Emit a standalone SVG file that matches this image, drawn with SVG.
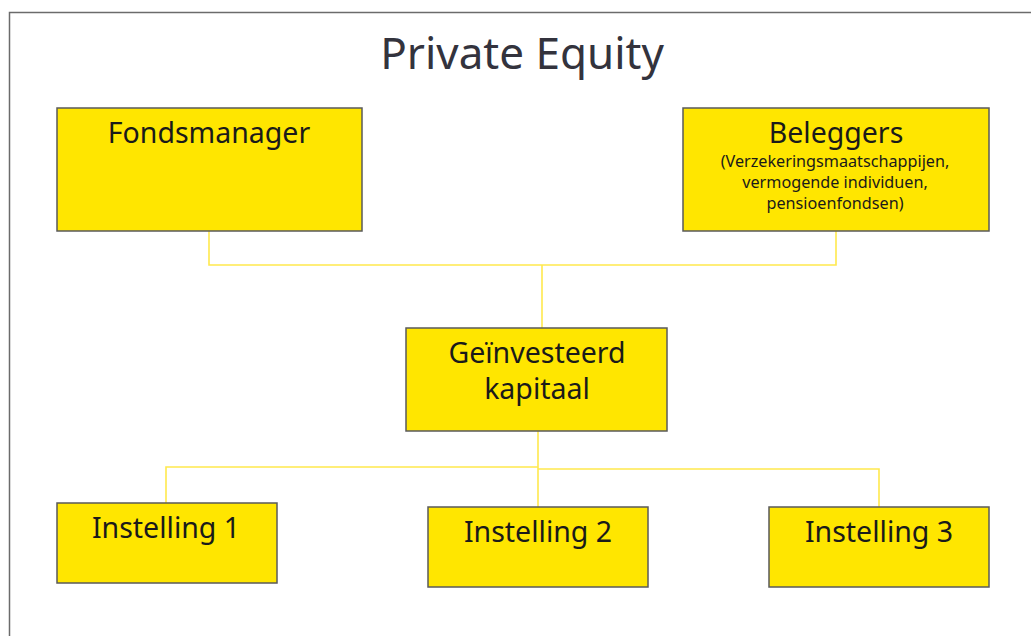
<svg xmlns="http://www.w3.org/2000/svg" width="1031" height="636" viewBox="0 0 1031 636">
<style>
.box{fill:#FFE600;stroke:#5a5a5a;stroke-width:1.5}
.lbl{font-family:"Noto Sans","Open Sans",sans-serif;font-size:28.5px;fill:#1a1a1a;text-anchor:middle}
.sub{font-family:"Noto Sans","Open Sans",sans-serif;font-size:16.2px;fill:#1a1a1a;text-anchor:middle}
.con{fill:none;stroke:#FFE94D;stroke-width:1.6}
</style>
<rect width="1031" height="636" fill="#fff"/>
<path d="M1031,12.5 H9.5 V636" fill="none" stroke="#6b6b6b" stroke-width="1.5"/>
<text x="522" y="69" font-family="Noto Sans, Open Sans, sans-serif" font-size="44" fill="#33333d" text-anchor="middle">Private Equity</text>
<g id="connectors">
<path class="con" d="M209,231 V265 H836 V231"/>
<path class="con" d="M542,265 V328"/>
<path class="con" d="M538,431 V507"/>
<path class="con" d="M538,467 H166 V503"/>
<path class="con" d="M538,469 H879 V507"/>
</g>
<g id="fondsmanager">
<rect class="box" x="57" y="108" width="305" height="123"/>
<text class="lbl" x="209" y="143">Fondsmanager</text>
</g>
<g id="beleggers">
<rect class="box" x="683" y="108" width="306" height="123"/>
<text class="lbl" x="836" y="143">Beleggers</text>
<text class="sub" x="835" y="167">(Verzekeringsmaatschappijen,</text>
<text class="sub" x="835" y="188">vermogende individuen,</text>
<text class="sub" x="835" y="209">pensioenfondsen)</text>
</g>
<g id="geinvesteerd">
<rect class="box" x="406" y="328" width="261" height="103"/>
<text class="lbl" x="537" y="363">Geïnvesteerd</text>
<text class="lbl" x="537" y="399">kapitaal</text>
</g>
<g id="instelling1">
<rect class="box" x="57" y="503" width="220" height="80"/>
<text class="lbl" x="166" y="538">Instelling 1</text>
</g>
<g id="instelling2">
<rect class="box" x="428" y="507" width="220" height="80"/>
<text class="lbl" x="538" y="542">Instelling 2</text>
</g>
<g id="instelling3">
<rect class="box" x="769" y="507" width="220" height="80"/>
<text class="lbl" x="879" y="542">Instelling 3</text>
</g>
</svg>
